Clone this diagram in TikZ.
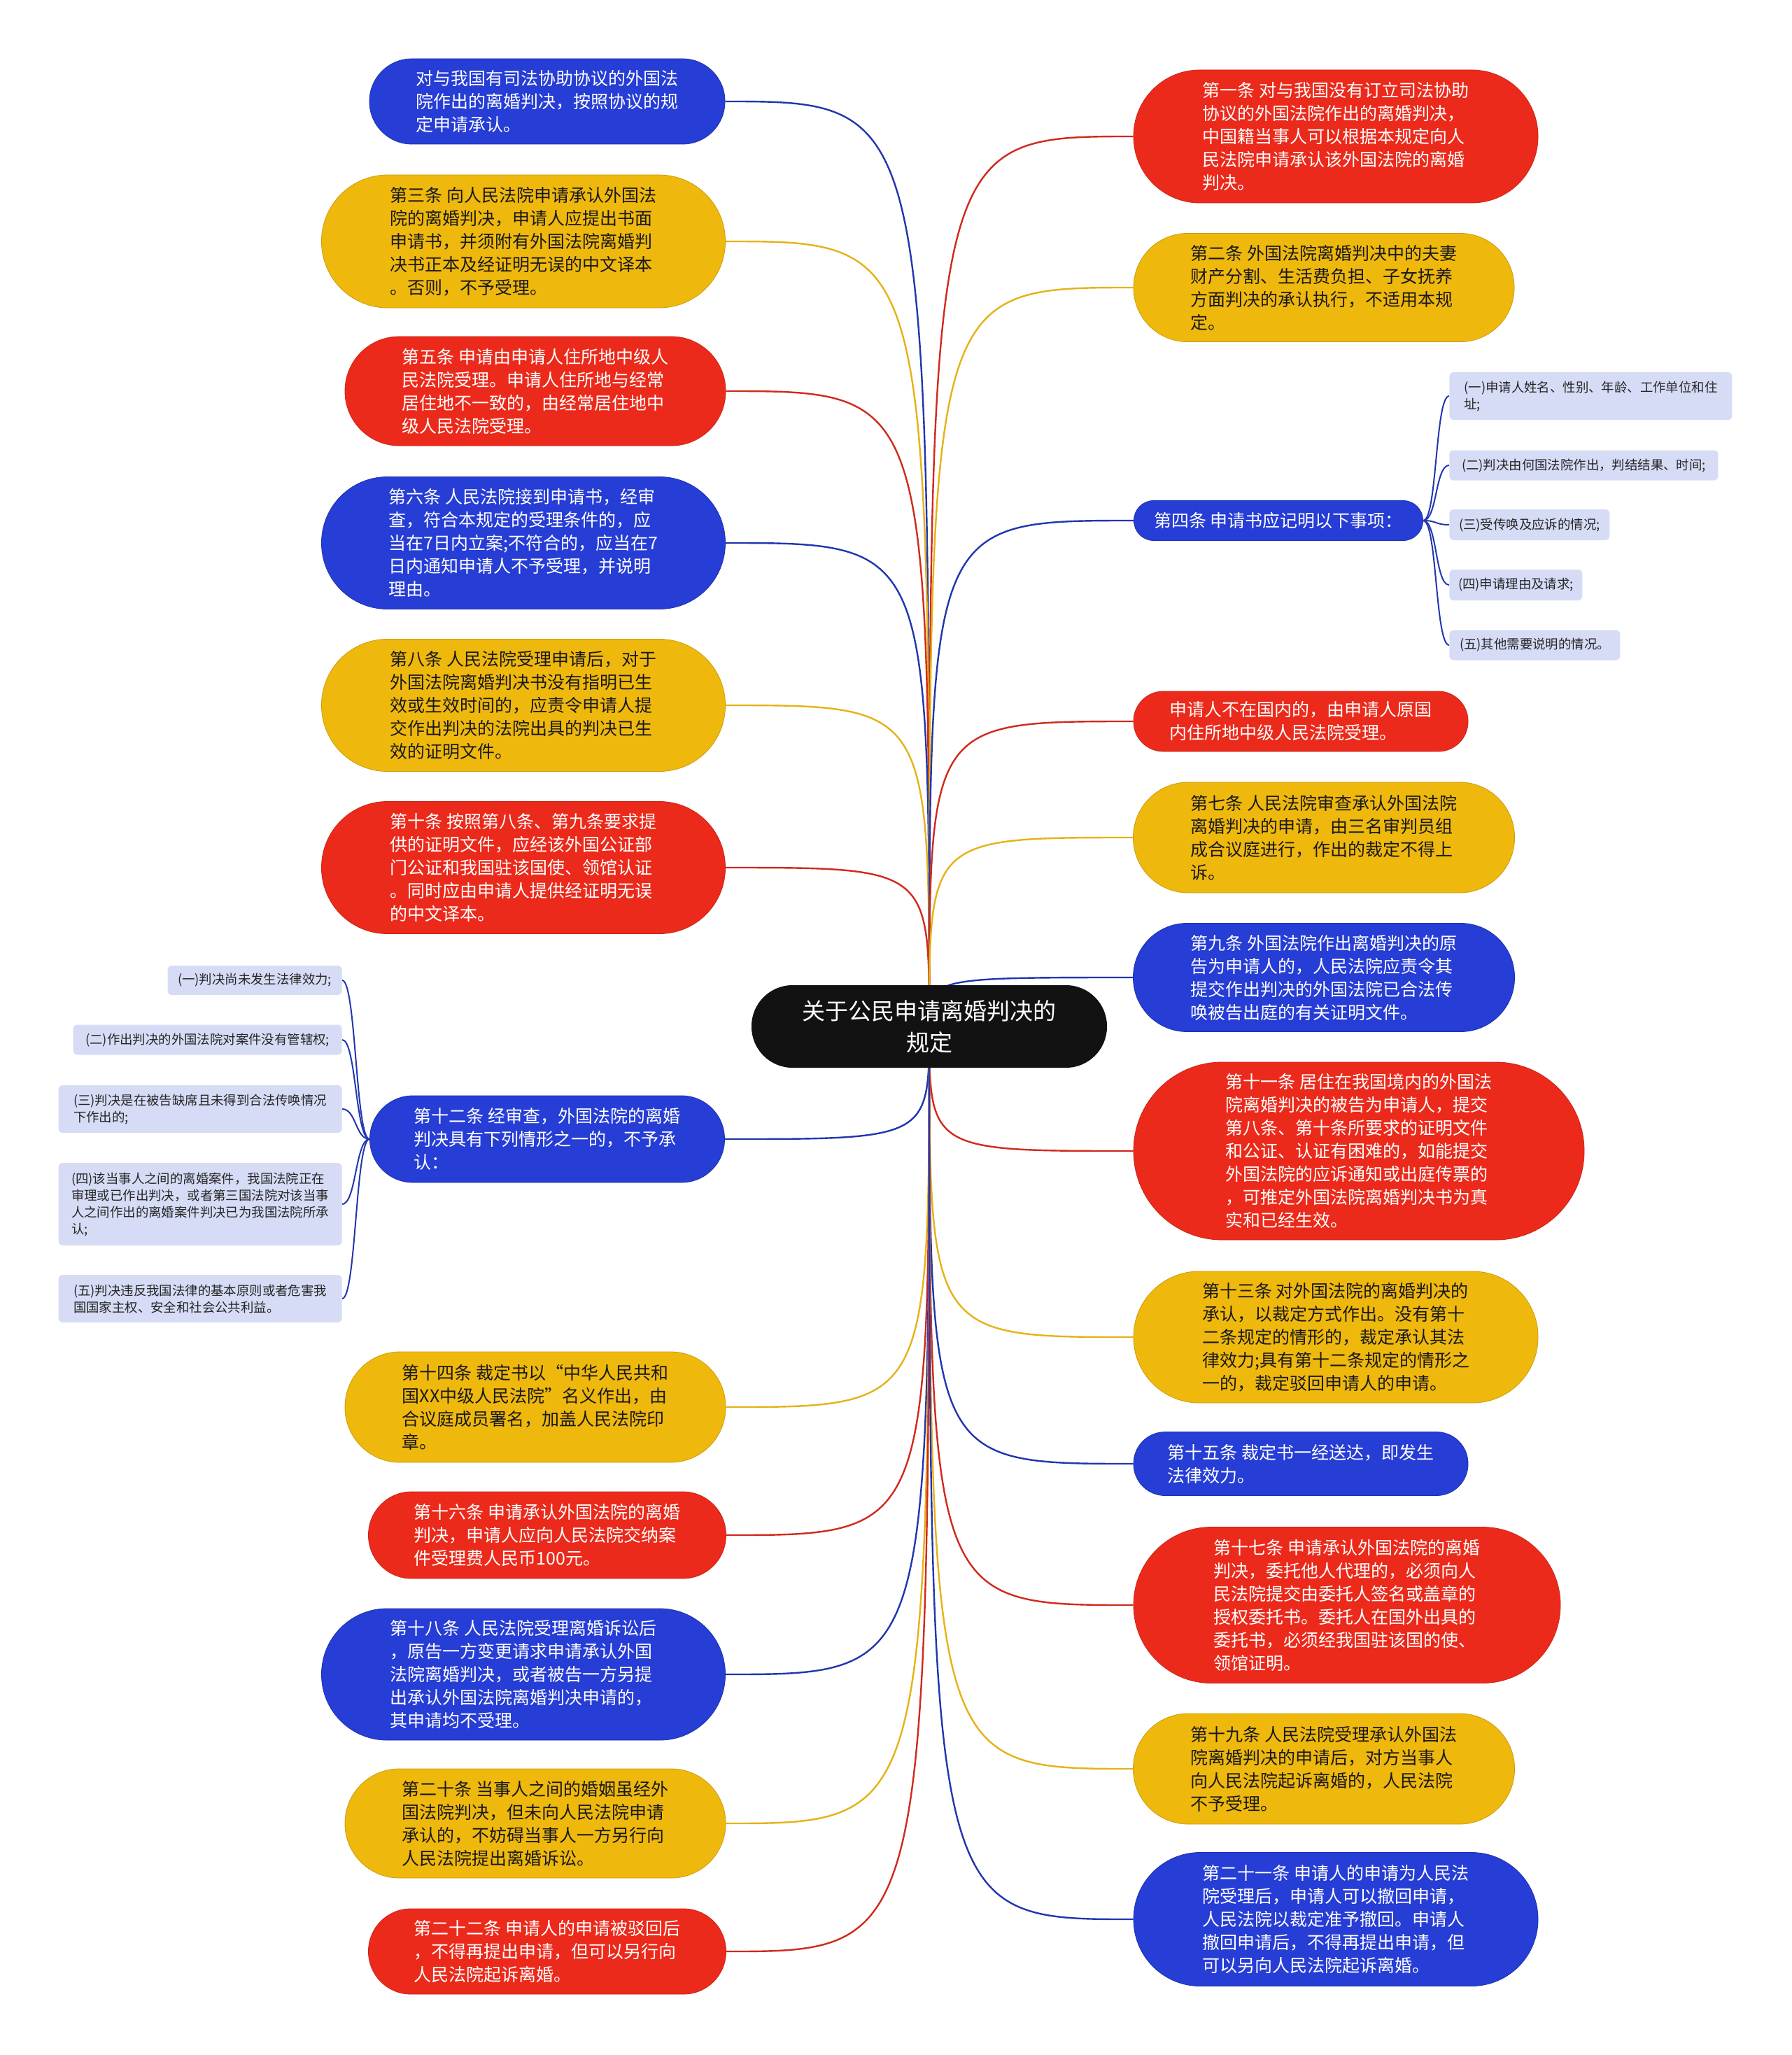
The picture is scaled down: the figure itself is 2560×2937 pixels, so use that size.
\documentclass[tikz,border=0pt]{standalone}
\usepackage{fontspec}
\usetikzlibrary{backgrounds}
\newfontfamily\cjk{Noto Sans CJK SC}

\definecolor{nodeblue}{HTML}{263DD6}
\definecolor{nodered}{HTML}{EC2A1B}
\definecolor{nodeyellow}{HTML}{EFB80D}
\definecolor{nodelav}{HTML}{D7DCF6}
\definecolor{lineblue}{HTML}{2236B0}
\definecolor{linered}{HTML}{D02A1E}
\definecolor{lineyellow}{HTML}{E6B218}

\tikzset{
    pill/.style 2 args={minimum width=#1*0.5pt, minimum height=#2*0.5pt,
        rounded corners=#2*0.25pt-0.2pt, inner sep=0pt, align=left,
        font=\cjk\fontsize{12.5pt}{16.5pt}\selectfont},
    bluebox/.style={fill=nodeblue, draw=nodeblue!80!black, text=white},
    redbox/.style={fill=nodered, draw=nodered!85!black, text=white},
    yellowbox/.style={fill=nodeyellow, draw=nodeyellow!85!black, text=black!90},
    itembox/.style 2 args={minimum width=#1*0.5pt, minimum height=#2*0.5pt,
        fill=nodelav, rounded corners=3pt, inner sep=0pt, align=left,
        text=black!85, font=\cjk\fontsize{9.2pt}{12pt}\selectfont},
    mainline/.style={line width=1.2pt},
    subline/.style={line width=1pt, lineblue}
}

\begin{document}
\begin{tikzpicture}[x=0.5pt, y=-0.5pt]
    \useasboundingbox (0,0) rectangle (2560,2937);
    % Draw center node
    \node[pill={508}{118}, fill=black!93, text=white, align=center,
        font=\cjk\fontsize{16.5pt}{22.5pt}\selectfont] (root) at (1328,1467)
        {关于公民申请离婚判决的\\规定};
    % Draw left articles
    \node[pill={508}{122}, bluebox] (artp) at (782,145)
        {对与我国有司法协助协议的外国法\\院作出的离婚判决，按照协议的规\\定申请承认。};
    \node[pill={577}{190}, yellowbox] (art3) at (748,345)
        {第三条 向人民法院申请承认外国法\\院的离婚判决，申请人应提出书面\\申请书，并须附有外国法院离婚判\\决书正本及经证明无误的中文译本\\。否则，不予受理。};
    \node[pill={544}{156}, redbox] (art5) at (765,559)
        {第五条 申请由申请人住所地中级人\\民法院受理。申请人住所地与经常\\居住地不一致的，由经常居住地中\\级人民法院受理。};
    \node[pill={577}{189}, bluebox] (art6) at (748,776)
        {第六条 人民法院接到申请书，经审\\查，符合本规定的受理条件的，应\\当在7日内立案;不符合的，应当在7\\日内通知申请人不予受理，并说明\\理由。};
    \node[pill={577}{189}, yellowbox] (art8) at (748,1008)
        {第八条 人民法院受理申请后，对于\\外国法院离婚判决书没有指明已生\\效或生效时间的，应责令申请人提\\交作出判决的法院出具的判决已生\\效的证明文件。};
    \node[pill={577}{189}, redbox] (art10) at (748,1240)
        {第十条 按照第八条、第九条要求提\\供的证明文件，应经该外国公证部\\门公证和我国驻该国使、领馆认证\\。同时应由申请人提供经证明无误\\的中文译本。};
    \node[pill={507}{124}, bluebox] (art12) at (782,1628)
        {第十二条 经审查，外国法院的离婚\\判决具有下列情形之一的，不予承\\认：};
    \node[pill={544}{158}, yellowbox] (art14) at (765,2011)
        {第十四条 裁定书以“中华人民共和\\国XX中级人民法院”名义作出，由\\合议庭成员署名，加盖人民法院印\\章。};
    \node[pill={511}{124}, redbox] (art16) at (782,2194)
        {第十六条 申请承认外国法院的离婚\\判决，申请人应向人民法院交纳案\\件受理费人民币100元。};
    \node[pill={577}{188}, bluebox] (art18) at (748,2393)
        {第十八条 人民法院受理离婚诉讼后\\，原告一方变更请求申请承认外国\\法院离婚判决，或者被告一方另提\\出承认外国法院离婚判决申请的，\\其申请均不受理。};
    \node[pill={544}{156}, yellowbox] (art20) at (765,2606)
        {第二十条 当事人之间的婚姻虽经外\\国法院判决，但未向人民法院申请\\承认的，不妨碍当事人一方另行向\\人民法院提出离婚诉讼。};
    \node[pill={511}{122}, redbox] (art22) at (782,2789)
        {第二十二条 申请人的申请被驳回后\\，不得再提出申请，但可以另行向\\人民法院起诉离婚。};
    % Draw items of article 12
    \node[itembox={249}{42}, anchor=east] (art12-1) at (489,1401) {(一)判决尚未发生法律效力;};
    \node[itembox={384}{43}, anchor=east] (art12-2) at (489,1486) {(二)作出判决的外国法院对案件没有管辖权;};
    \node[itembox={405}{68}, anchor=east] (art12-3) at (489,1585)
        {(三)判决是在被告缺席且未得到合法传唤情况\\下作出的;};
    \node[itembox={405}{118}, anchor=east] (art12-4) at (489,1721)
        {(四)该当事人之间的离婚案件，我国法院正在\\审理或已作出判决，或者第三国法院对该当事\\人之间作出的离婚案件判决已为我国法院所承\\认;};
    \node[itembox={405}{68}, anchor=east] (art12-5) at (489,1856)
        {(五)判决违反我国法律的基本原则或者危害我\\国国家主权、安全和社会公共利益。};
    % Draw right articles
    \node[pill={578}{190}, redbox] (art1) at (1909,195)
        {第一条 对与我国没有订立司法协助\\协议的外国法院作出的离婚判决，\\中国籍当事人可以根据本规定向人\\民法院申请承认该外国法院的离婚\\判决。};
    \node[pill={544}{155}, yellowbox] (art2) at (1892,411)
        {第二条 外国法院离婚判决中的夫妻\\财产分割、生活费负担、子女抚养\\方面判决的承认执行，不适用本规\\定。};
    \node[pill={413}{57}, bluebox] (art4) at (1827,744)
        {第四条 申请书应记明以下事项：};
    \node[pill={478}{86}, redbox] (artabroad) at (1859,1031)
        {申请人不在国内的，由申请人原国\\内住所地中级人民法院受理。};
    \node[pill={545}{158}, yellowbox] (art7) at (1892,1197)
        {第七条 人民法院审查承认外国法院\\离婚判决的申请，由三名审判员组\\成合议庭进行，作出的裁定不得上\\诉。};
    \node[pill={545}{155}, bluebox] (art9) at (1892,1397)
        {第九条 外国法院作出离婚判决的原\\告为申请人的，人民法院应责令其\\提交作出判决的外国法院已合法传\\唤被告出庭的有关证明文件。};
    \node[pill={644}{254}, redbox] (art11) at (1942,1645)
        {第十一条 居住在我国境内的外国法\\院离婚判决的被告为申请人，提交\\第八条、第十条所要求的证明文件\\和公证、认证有困难的，如能提交\\外国法院的应诉通知或出庭传票的\\，可推定外国法院离婚判决书为真\\实和已经生效。};
    \node[pill={578}{188}, yellowbox] (art13) at (1909,1911)
        {第十三条 对外国法院的离婚判决的\\承认，以裁定方式作出。没有第十\\二条规定的情形的，裁定承认其法\\律效力;具有第十二条规定的情形之\\一的，裁定驳回申请人的申请。};
    \node[pill={478}{91}, bluebox] (art15) at (1859,2092)
        {第十五条 裁定书一经送达，即发生\\法律效力。};
    \node[pill={610}{223}, redbox] (art17) at (1925,2294)
        {第十七条 申请承认外国法院的离婚\\判决，委托他人代理的，必须向人\\民法院提交由委托人签名或盖章的\\授权委托书。委托人在国外出具的\\委托书，必须经我国驻该国的使、\\领馆证明。};
    \node[pill={545}{158}, yellowbox] (art19) at (1892,2528)
        {第十九条 人民法院受理承认外国法\\院离婚判决的申请后，对方当事人\\向人民法院起诉离婚的，人民法院\\不予受理。};
    \node[pill={578}{191}, bluebox] (art21) at (1909,2743)
        {第二十一条 申请人的申请为人民法\\院受理后，申请人可以撤回申请，\\人民法院以裁定准予撤回。申请人\\撤回申请后，不得再提出申请，但\\可以另向人民法院起诉离婚。};
    % Draw items of article 4
    \node[itembox={404}{68}, anchor=west] (art4-1) at (2071,566)
        {(一)申请人姓名、性别、年龄、工作单位和住\\址;};
    \node[itembox={384}{43}, anchor=west] (art4-2) at (2071,665) {(二)判决由何国法院作出，判结结果、时间;};
    \node[itembox={229}{44}, anchor=west] (art4-3) at (2071,750) {(三)受传唤及应诉的情况;};
    \node[itembox={190}{44}, anchor=west] (art4-4) at (2071,836) {(四)申请理由及请求;};
    \node[itembox={244}{43}, anchor=west] (art4-5) at (2071,922) {(五)其他需要说明的情况。};
    \begin{scope}[on background layer]
        \fill[white] (0,0) rectangle (2560,2937);
        % Draw branches to the left
        \foreach \n/\c in {artp/lineblue, art3/lineyellow, art5/linered, art6/lineblue,
                art8/lineyellow, art10/linered, art12/lineblue, art14/lineyellow,
                art16/linered, art18/lineblue, art20/lineyellow, art22/linered}
            \draw[mainline, \c] (root.center) .. controls (root.center |- \n.east) .. (\n.east);
        % Draw branches to the right
        \foreach \n/\c in {art1/linered, art2/lineyellow, art4/lineblue, artabroad/linered,
                art7/lineyellow, art9/lineblue, art11/linered, art13/lineyellow,
                art15/lineblue, art17/linered, art19/lineyellow, art21/lineblue}
            \draw[mainline, \c] (root.center) .. controls (root.center |- \n.west) .. (\n.west);
        % Draw item brackets
        \foreach \i in {1,...,5} {
            \draw[subline] (art4.east) .. controls +(20,0) and +(-20,0) .. (art4-\i.west);
            \draw[subline] (art12.west) .. controls +(-20,0) and +(20,0) .. (art12-\i.east);
        }
    \end{scope}
\end{tikzpicture}
\end{document}
